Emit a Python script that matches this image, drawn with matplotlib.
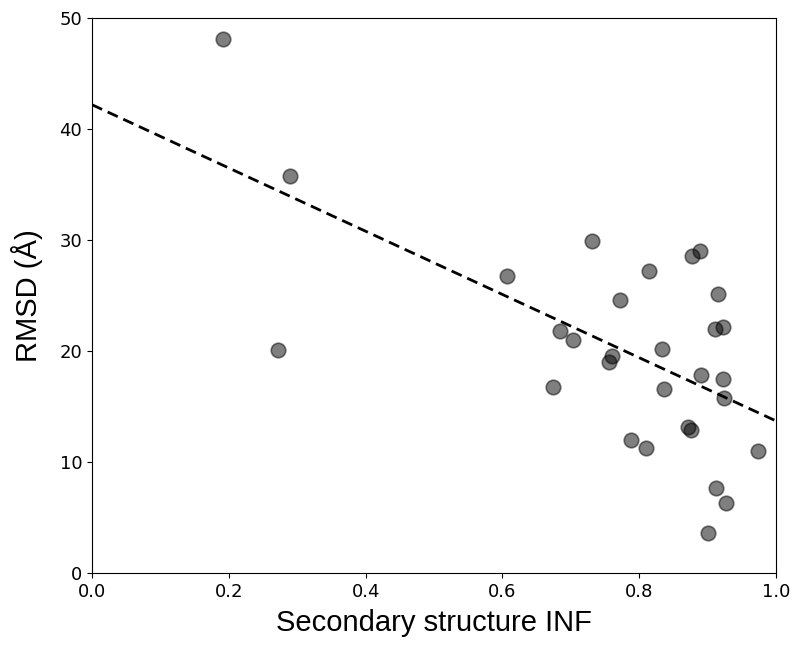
import matplotlib
matplotlib.use('Agg')
import matplotlib.pyplot as plt
import numpy as np

# values
inf = [0.192, 0.290, 0.272, 0.607, 0.731, 0.684, 0.703, 0.674, 0.772, 0.814,
       0.760, 0.756, 0.833, 0.836, 0.788, 0.810, 0.871, 0.876, 0.877, 0.889,
       0.915, 0.911, 0.922, 0.890, 0.923, 0.924, 0.974, 0.912, 0.927, 0.900]
rmsd = [48.1, 35.8, 20.1, 26.8, 29.9, 21.8, 21.0, 16.8, 24.6, 27.2,
        19.6, 19.0, 20.2, 16.6, 12.0, 11.3, 13.2, 12.9, 28.6, 29.0,
        25.1, 22.0, 22.2, 17.8, 17.5, 15.8, 11.0, 7.7, 6.3, 3.6]

fit_intercept = 42.2
fit_slope = -28.5

fig = plt.figure(figsize=(7.96, 6.5), dpi=100)
ax = fig.add_axes([0.1156, 0.1185, 0.8594, 0.8535])

ax.scatter(inf, rmsd, s=110, color='black', alpha=0.5, edgecolors='black', linewidths=1.2, zorder=3)

xs = np.array([0.0, 1.0])
ax.plot(xs, fit_intercept + fit_slope * xs, 'k--', linewidth=2, dashes=(4, 2.2))

ax.set_xlim(0, 1)
ax.set_ylim(0, 50)
ax.set_xticks([0.0, 0.2, 0.4, 0.6, 0.8, 1.0])
ax.set_yticks([0, 10, 20, 30, 40, 50])
ax.tick_params(labelsize=13)
ax.set_xlabel('Secondary structure INF', fontsize=21, family='Liberation Sans', labelpad=6)
ax.set_ylabel('RMSD (Å)', fontsize=21, family='Liberation Sans', labelpad=12)

plt.savefig('out.png', dpi=100)
